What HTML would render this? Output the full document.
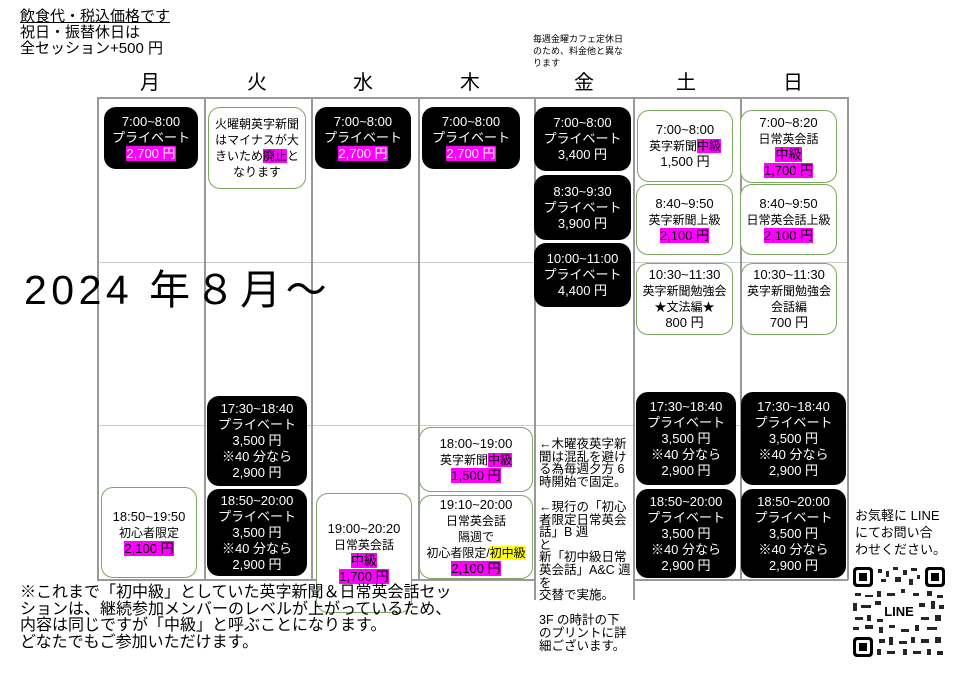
<!DOCTYPE html>
<html><head><meta charset="utf-8"><style>
*{margin:0;padding:0;box-sizing:border-box}
body{width:960px;height:679px;background:#fff;position:relative;overflow:hidden;font-family:"Liberation Sans","Noto Sans CJK JP",sans-serif;color:#000}
.a{position:absolute}
.vl{position:absolute;width:1.5px;background:#999}
.hl{position:absolute;height:1px;background:#ccc}
.b{position:absolute;border-radius:12px;display:flex;justify-content:center;align-items:center;text-align:center;font-size:13px;line-height:16px}
.b>div{display:block}
.k{background:#000;color:#fff}
.g{background:#fff;border:1.5px solid #7aa860}
.m{background:#f0f;color:#000}
.k .m{color:#fff}
.y{background:#ff0}
.s{font-size:12px;line-height:16px}
.h{position:absolute;top:66px;font-size:20px}
</style></head><body>
<div class="a" style="left:20px;top:9px;font-size:15px;line-height:16px"><span style="text-decoration:underline">飲食代・税込価格です</span><br>祝日・振替休日は<br>全セッション+500 円</div>
<div class="a" style="left:533px;top:33px;font-size:9px;line-height:12px">毎週金曜カフェ定休日<br>のため、料金他と異な<br>ります</div>
<div class="h" style="left:140px">月</div><div class="h" style="left:247px">火</div><div class="h" style="left:353px">水</div><div class="h" style="left:460px">木</div><div class="h" style="left:574px">金</div><div class="h" style="left:676px">土</div><div class="h" style="left:783px">日</div>

<div class="hl" style="left:97px;top:97px;width:751px;background:#999;height:1.5px"></div>
<div class="hl" style="left:97px;top:262px;width:751px"></div>
<div class="hl" style="left:97px;top:425px;width:751px"></div>
<div class="hl" style="left:97px;top:579px;width:437px;background:#999;height:1.5px"></div>
<div class="hl" style="left:633px;top:579px;width:215px;background:#999;height:1.5px"></div>
<div class="vl" style="left:97px;top:97px;height:483px"></div>
<div class="vl" style="left:204px;top:97px;height:483px"></div>
<div class="vl" style="left:311px;top:97px;height:483px"></div>
<div class="vl" style="left:418px;top:97px;height:483px"></div>
<div class="vl" style="left:534px;top:97px;height:503px"></div>
<div class="vl" style="left:633px;top:97px;height:503px"></div>
<div class="vl" style="left:740px;top:97px;height:483px"></div>
<div class="vl" style="left:847px;top:97px;height:483px"></div>

<div class="a" style="left:24px;top:256px;font-size:41px;letter-spacing:4.5px;white-space:nowrap">2024 年８月～</div>

<!-- Mon -->
<div class="b k" style="left:104px;top:107px;width:94px;height:62px"><div>7:00~8:00<br>プライベート<br><span class="m">2,700 円</span></div></div>
<div class="b g" style="left:101px;top:487px;width:96px;height:91px"><div>18:50~19:50<br><span class="s">初心者限定</span><br><span class="m">2,100 円</span></div></div>
<!-- Tue -->
<div class="b g s" style="left:208px;top:107px;width:98px;height:82px"><div>火曜朝英字新聞<br>はマイナスが大<br>きいため<span class="m">廃止</span>と<br>なります</div></div>
<div class="b k" style="left:207px;top:396px;width:100px;height:90px"><div>17:30~18:40<br>プライベート<br>3,500 円<br>※40 分なら<br>2,900 円</div></div>
<div class="b k" style="left:207px;top:489px;width:100px;height:87px"><div>18:50~20:00<br>プライベート<br>3,500 円<br>※40 分なら<br>2,900 円</div></div>
<!-- Wed -->
<div class="b k" style="left:315px;top:107px;width:96px;height:62px"><div>7:00~8:00<br>プライベート<br><span class="m">2,700 円</span></div></div>
<div class="b g" style="left:316px;top:493px;width:96px;height:120px"><div>19:00~20:20<br><span class="s">日常英会話</span><br><span class="m">中級</span><br><span class="m">1,700 円</span></div></div>
<!-- Thu -->
<div class="b k" style="left:422px;top:107px;width:98px;height:62px"><div>7:00~8:00<br>プライベート<br><span class="m">2,700 円</span></div></div>
<div class="b g" style="left:419px;top:427px;width:114px;height:65px"><div>18:00~19:00<br><span class="s">英字新聞<span class="m">中級</span></span><br><span class="m">1,500 円</span></div></div>
<div class="b g" style="left:419px;top:495px;width:114px;height:84px"><div>19:10~20:00<br><span class="s">日常英会話<br>隔週で<br>初心者限定/<span class="y">初中級</span></span><br><span class="m">2,100 円</span></div></div>
<!-- Fri -->
<div class="b k" style="left:534px;top:107px;width:97px;height:64px"><div>7:00~8:00<br>プライベート<br>3,400 円</div></div>
<div class="b k" style="left:534px;top:175px;width:97px;height:65px"><div>8:30~9:30<br>プライベート<br>3,900 円</div></div>
<div class="b k" style="left:534px;top:243px;width:97px;height:64px"><div>10:00~11:00<br>プライベート<br>4,400 円</div></div>
<div class="a" style="left:539px;top:438px;font-size:12.5px;line-height:12.6px;white-space:nowrap">←木曜夜英字新<br>聞は混乱を避け<br>る為毎週夕方 6<br>時開始で固定。<br><br>←現行の「初心<br>者限定日常英会<br>話」B 週<br>と<br>新「初中級日常<br>英会話」A&amp;C 週<br>を<br>交替で実施。<br><br>3F の時計の下<br>のプリントに詳<br>細ございます。</div>
<!-- Sat -->
<div class="b g" style="left:637px;top:110px;width:96px;height:72px"><div>7:00~8:00<br><span class="s">英字新聞<span class="m">中級</span></span><br>1,500 円</div></div>
<div class="b g" style="left:636px;top:184px;width:97px;height:71px"><div>8:40~9:50<br><span class="s">英字新聞上級</span><br><span class="m">2,100 円</span></div></div>
<div class="b g" style="left:636px;top:263px;width:97px;height:72px"><div>10:30~11:30<br><span class="s">英字新聞勉強会<br>★文法編★</span><br>800 円</div></div>
<div class="b k" style="left:636px;top:392px;width:100px;height:93px"><div>17:30~18:40<br>プライベート<br>3,500 円<br>※40 分なら<br>2,900 円</div></div>
<div class="b k" style="left:636px;top:489px;width:100px;height:89px"><div>18:50~20:00<br>プライベート<br>3,500 円<br>※40 分なら<br>2,900 円</div></div>
<!-- Sun -->
<div class="b g" style="left:740px;top:110px;width:97px;height:73px"><div>7:00~8:20<br><span class="s">日常英会話</span><br><span class="m">中級</span><br><span class="m">1,700 円</span></div></div>
<div class="b g" style="left:740px;top:184px;width:97px;height:71px"><div>8:40~9:50<br><span class="s">日常英会話上級</span><br><span class="m">2,100 円</span></div></div>
<div class="b g" style="left:741px;top:263px;width:96px;height:72px"><div>10:30~11:30<br><span class="s">英字新聞勉強会<br>会話編</span><br>700 円</div></div>
<div class="b k" style="left:741px;top:392px;width:105px;height:93px"><div>17:30~18:40<br>プライベート<br>3,500 円<br>※40 分なら<br>2,900 円</div></div>
<div class="b k" style="left:741px;top:489px;width:105px;height:89px"><div>18:50~20:00<br>プライベート<br>3,500 円<br>※40 分なら<br>2,900 円</div></div>

<div class="a" style="left:855px;top:507px;font-size:13px;line-height:17px;width:100px">お気軽に LINE<br>にてお問い合<br>わせください。</div>
<svg class="a" style="left:853px;top:567px" width="92" height="90" viewBox="0 0 92 90">
<g fill="#000">
<rect x="0" y="0" width="20" height="20" rx="4"/><rect x="72" y="0" width="20" height="20" rx="4"/><rect x="0" y="70" width="20" height="20" rx="4"/>
</g>
<g fill="#fff"><rect x="3" y="3" width="14" height="14" rx="2"/><rect x="75" y="3" width="14" height="14" rx="2"/><rect x="3" y="73" width="14" height="14" rx="2"/></g>
<g fill="#000"><rect x="6" y="6" width="8" height="8"/><rect x="78" y="6" width="8" height="8"/><rect x="6" y="76" width="8" height="8"/></g>
<g fill="#000" opacity="0.85">
<rect x="25" y="2" width="4" height="4"/><rect x="33" y="4" width="3" height="6"/><rect x="40" y="0" width="5" height="3"/><rect x="50" y="3" width="4" height="5"/><rect x="58" y="1" width="6" height="3"/><rect x="28" y="12" width="5" height="3"/><rect x="42" y="10" width="6" height="5"/><rect x="56" y="12" width="4" height="6"/><rect x="64" y="8" width="3" height="4"/>
<rect x="2" y="26" width="6" height="3"/><rect x="12" y="28" width="8" height="2"/><rect x="24" y="24" width="4" height="6"/><rect x="34" y="26" width="8" height="3"/><rect x="48" y="22" width="4" height="4"/><rect x="60" y="26" width="6" height="3"/><rect x="74" y="24" width="5" height="5"/><rect x="84" y="28" width="6" height="3"/>
<rect x="0" y="36" width="4" height="8"/><rect x="8" y="38" width="10" height="3"/><rect x="22" y="34" width="6" height="4"/><rect x="66" y="36" width="6" height="4"/><rect x="78" y="34" width="4" height="8"/><rect x="86" y="38" width="5" height="4"/>
<rect x="2" y="50" width="8" height="3"/><rect x="14" y="48" width="4" height="6"/><rect x="24" y="52" width="6" height="3"/><rect x="68" y="50" width="8" height="3"/><rect x="82" y="48" width="6" height="6"/>
<rect x="0" y="60" width="6" height="3"/><rect x="12" y="58" width="8" height="4"/><rect x="26" y="60" width="4" height="6"/><rect x="36" y="58" width="6" height="3"/><rect x="48" y="62" width="8" height="3"/><rect x="62" y="58" width="4" height="6"/><rect x="74" y="60" width="10" height="3"/>
<rect x="26" y="72" width="6" height="4"/><rect x="36" y="70" width="4" height="8"/><rect x="46" y="74" width="8" height="3"/><rect x="58" y="70" width="4" height="6"/><rect x="68" y="72" width="8" height="4"/><rect x="82" y="70" width="6" height="6"/>
<rect x="24" y="82" width="4" height="6"/><rect x="34" y="84" width="8" height="3"/><rect x="50" y="82" width="4" height="6"/><rect x="60" y="84" width="8" height="3"/><rect x="74" y="82" width="4" height="6"/><rect x="84" y="84" width="6" height="4"/>
</g>
<text x="46" y="49" text-anchor="middle" font-family="Liberation Sans,sans-serif" font-weight="bold" font-size="13">LINE</text>
</svg>

<div class="a" style="left:20px;top:585px;font-size:16px;line-height:16.5px;white-space:nowrap">※これまで「初中級」としていた英字新聞＆日常英会話セッ<br>ションは、継続参加メンバーのレベルが上がっているため、<br>内容は同じですが「中級」と呼ぶことになります。<br>どなたでもご参加いただけます。</div>
</body></html>
